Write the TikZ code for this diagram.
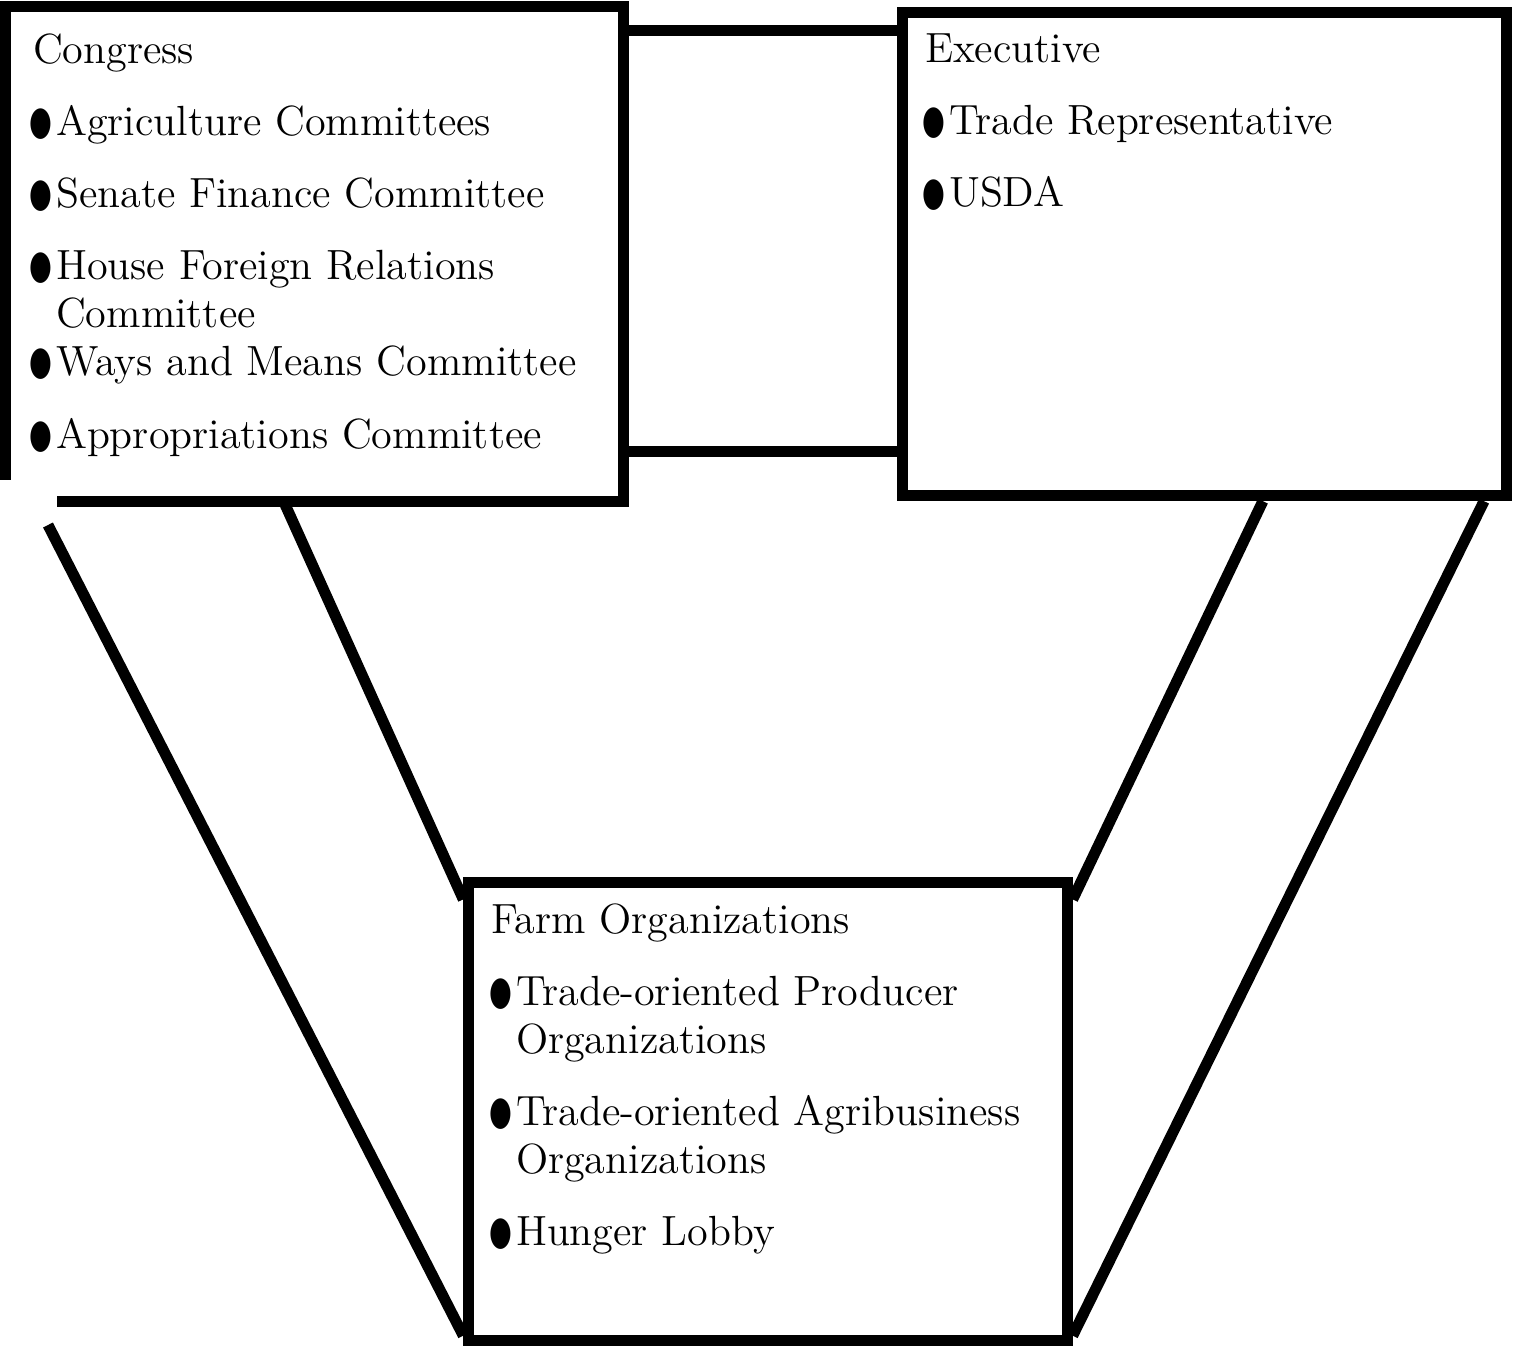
\documentclass[tikz,border=0pt]{standalone}
\usepackage{fontspec}
\usepackage{graphicx}
\usetikzlibrary{positioning,calc}
\newfontfamily\dotfont{DejaVu Sans}
\newcommand{\blt}{\makebox[0.27cm][l]{\raisebox{0.01cm}{\scalebox{0.62}[0.95]{\dotfont ●}}}}
\newcommand{\cont}{\hspace*{0.27cm}}

\begin{document}
\begin{tikzpicture}[x=0.01cm,y=-0.01cm,
            heavy/.style={line width=0.11cm,line join=miter},
            box/.style={heavy,draw,inner sep=0pt},
            list/.style={inner sep=0pt,align=left,font={\fontsize{12pt}{0.48cm}\selectfont}}]
            \useasboundingbox (0,0) rectangle (1517,1347);

            \node[box,draw=none,minimum width=6.07cm,minimum height=4.83cm] (congress) at (314.5,254) {};
            \node[box,minimum width=6.03cm,minimum height=4.83cm] (executive) at (1204.5,254) {};
            \node[box,minimum width=5.98cm,minimum height=4.57cm] (farm) at (768,1111.5) {};

            \draw[heavy] ($(congress.south west)+(52,0)$) -- (congress.south east) -- (congress.north east)
                -- (congress.north west) -- ($(congress.south west)+(0,-21)$);

            \node[list,below right=0.265cm and 0.23cm of congress.north west] (congresslist) {%
                \hspace*{0.04cm}Congress\\[0.24cm]
                \blt Agriculture Committees\\[0.24cm]
                \blt Senate Finance Committee\\[0.24cm]
                \blt House Foreign Relations\\
                \cont Committee\\
                \blt Ways and Means Committee\\[0.24cm]
                \blt Appropriations Committee};
            \node[list,below right=0.26cm and 0.24cm of executive.north west] (executivelist) {%
                \hspace*{0.03cm}Executive\\[0.24cm]
                \blt Trade Representative\\[0.24cm]
                \blt USDA};
            \node[list,below right=0.26cm and 0.25cm of farm.north west] (farmlist) {%
                \hspace*{0.02cm}Farm Organizations\\[0.24cm]
                \blt Trade-oriented Producer\\
                \cont Organizations\\[0.24cm]
                \blt Trade-oriented Agribusiness\\
                \cont Organizations\\[0.24cm]
                \blt Hunger Lobby};

            \draw[heavy] ($(congress.north east)+(0,24)$) -- ($(executive.north west)+(0,24)$);
            \draw[heavy] ($(congress.south east)+(0,-50)$) -- ($(executive.south west)+(0,-50)$);

            \coordinate (leftfoot) at (48,525);
            \draw[heavy] ($(congress.south west)!0.45!(congress.south east)$) -- ($(farm.north west)+(0,22)$);
            \draw[heavy] (leftfoot) -- ($(farm.south west)+(0,-10)$);
            \draw[heavy] ($(executive.south west)!0.595!(executive.south east)$) -- ($(farm.north east)+(0,22)$);
            \draw[heavy] ($(executive.south west)!0.955!(executive.south east)$) -- ($(farm.south east)+(0,-10)$);
\end{tikzpicture}
\end{document}
